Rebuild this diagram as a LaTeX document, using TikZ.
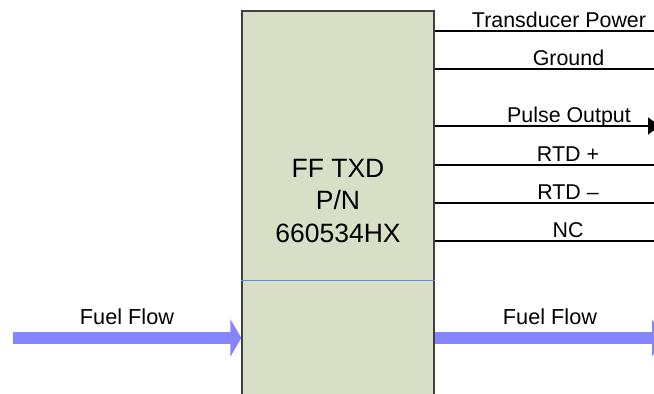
\documentclass[tikz,border=0pt]{standalone}
\usepackage{fontspec}
\setmainfont{Liberation Sans}
\usetikzlibrary{arrows.meta}
\definecolor{boxfill}{HTML}{D9DEC6}
\definecolor{flowcol}{HTML}{8585FF}
\definecolor{sepcol}{HTML}{5B8FD6}
\begin{document}
\begin{tikzpicture}[x=1pt,y=-1pt,
  txdbox/.style={draw=black!75,line width=1.3pt,fill=boxfill,minimum width=192pt,minimum height=390pt,inner sep=0pt},
  boxtext/.style={align=center,font=\fontsize{26.5}{32.5}\selectfont,inner sep=0pt},
  sig/.style={line width=1.6pt,black},
  siglabel/.style={anchor=base,font=\fontsize{21.4}{24}\selectfont,inner sep=0pt},
  flow/.style={line width=12pt,flowcol,-{Triangle[length=11pt,width=37pt]}},
  flowlabel/.style={anchor=base,font=\fontsize{21.7}{24}\selectfont,inner sep=0pt}]
\useasboundingbox (0,0) rectangle (654,394);
\clip (0,0) rectangle (654,394);
% box
\node[txdbox] (box) at (338,206) {};
\node[boxtext] (name) at (338,201) {FF TXD\\P/N\\660534HX};
% separator
\coordinate (s) at (0,280);
\draw[sepcol,line width=0.8pt] (s -| box.west) -- (s -| box.east);
% signal ends
\coordinate (e1) at (654,31);
\coordinate (e2) at (654,69);
\coordinate (e3) at (660,126);
\coordinate (e4) at (654,165);
\coordinate (e5) at (654,203);
\coordinate (e6) at (654,241);
\draw[sig] (e1 -| box.east) -- (e1);
\draw[sig] (e2 -| box.east) -- (e2);
\draw[sig,-{Triangle[length=12pt,width=17pt]}] (e3 -| box.east) -- (e3);
\draw[sig] (e4 -| box.east) -- (e4);
\draw[sig] (e5 -| box.east) -- (e5);
\draw[sig] (e6 -| box.east) -- (e6);
\node[siglabel] (l1) at (559,27) {Transducer Power};
\node[siglabel] (l2) at (568.5,65) {Ground};
\node[siglabel] (l3) at (569,122) {Pulse Output};
\node[siglabel] (l4) at (568,161) {RTD +};
\node[siglabel] (l5) at (568,199) {RTD \char"2013};
\node[siglabel] (l6) at (568,237) {NC};
% fuel flow
\coordinate (fin) at (13,338);
\coordinate (fout) at (663,338);
\draw[flow] (fin) -- (fin -| box.west);
\draw[flow] (fout -| box.east) -- (fout);
\node[flowlabel] (f1) at (127,324) {Fuel Flow};
\node[flowlabel] (f2) at (550,324) {Fuel Flow};
\end{tikzpicture}
\end{document}
